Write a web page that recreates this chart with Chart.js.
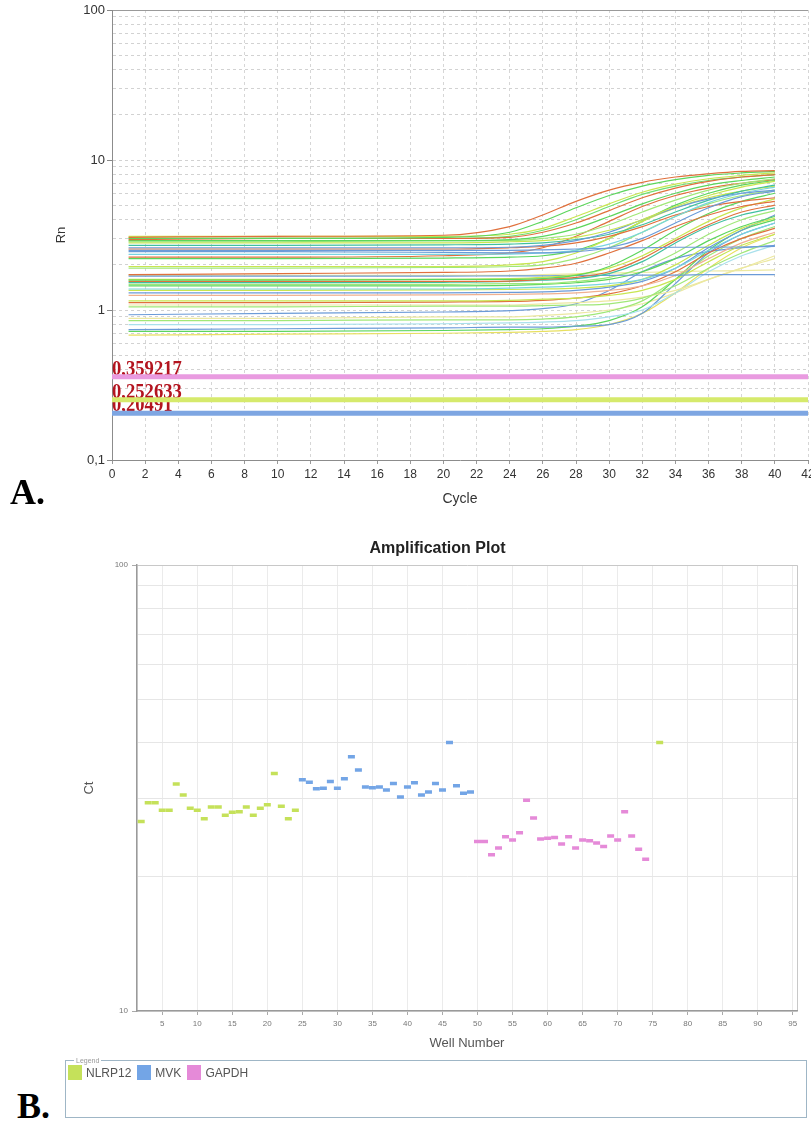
<!DOCTYPE html>
<html>
<head>
<meta charset="utf-8">
<script src="https://cdn.jsdelivr.net/npm/chart.js@4.4.0/dist/chart.umd.min.js"></script>
<style>
  html, body { margin: 0; padding: 0; background: #fff; width: 811px; height: 1124px; overflow: hidden; }
  #chartA { position: absolute; left: 0; top: 0; }
  #chartB { position: absolute; left: 60px; top: 530px; }
  .panel-label { position: absolute; font-family: "Liberation Serif", "Times New Roman", serif; font-weight: bold; font-size: 36px; color: #000; line-height: 1; }
  #legendB { position: absolute; left: 65px; top: 1057px; width: 742px; height: 61px; margin: 0; padding: 1px 2px 0 2px; border: 1px solid #9fb6c6; box-sizing: border-box; font-family: "Liberation Sans", Arial, sans-serif; }
  #legendB legend { font-size: 7px; color: #999; padding: 0 2px; margin-left: 6px; }
  .legend-item { display: inline-flex; align-items: center; font-size: 12px; color: #555; margin-right: 6px; }
  .legend-swatch { display: inline-block; width: 14px; height: 15px; margin-right: 4px; }
</style>
</head>
<body>
<canvas id="chartA" width="811" height="515"></canvas>
<div class="panel-label" style="left:10px; top:474px;">A.</div>
<canvas id="chartB" width="751" height="530"></canvas>
<div class="panel-label" style="left:17px; top:1088px;">B.</div>
<fieldset id="legendB"><legend>Legend</legend><div id="legendItems"></div></fieldset>
<script>
// ---------- Panel A: amplification curves ----------
const cycleSamples = [1, 10, 20, 24, 26, 28, 30, 32, 34, 36, 38, 40];
const cycleTicks = [0, 2, 4, 6, 8, 10, 12, 14, 16, 18, 20, 22, 24, 26, 28, 30, 32, 34, 36, 38, 40, 42];
const rnTicks = [0.1, 0.2, 0.3, 0.4, 0.5, 0.6, 0.7, 0.8, 0.9, 1, 2, 3, 4, 5, 6, 7, 8, 9, 10, 20, 30, 40, 50, 60, 70, 80, 90, 100];
const rnTickLabels = { 0.1: '0,1', 1: '1', 10: '10', 100: '100' };

const curveColors = [
  '#e0703c', '#5cd65c', '#c8e650', '#e0703c', '#5cd65c', '#a0e878', '#c8e650', '#6b9bd8', '#40c0a0',
  '#6b9bd8', '#6b9bd8', '#78d4e0', '#e0703c', '#c8e650', '#a0e878', '#e0703c', '#5cd65c', '#e0703c',
  '#c8e650', '#40c0a0', '#6b9bd8', '#a0e878', '#5cd65c', '#78d4e0', '#c8e650', '#6b9bd8', '#f0b090',
  '#c8e650', '#e0703c', '#a0e878', '#ece8a0', '#6b9bd8', '#a8e0ec', '#6b9bd8', '#5cd65c', '#e8e060',
  '#a0e878', '#ece8a0', '#ece8a0', '#5cd65c', '#e0703c', '#6ee06e'
];
const curveValues = [
  [3.05, 3.1, 3.15, 3.6, 4.3, 5.3, 6.3, 7.1, 7.7, 8.1, 8.4, 8.5],
  [3.0, 3.0, 3.05, 3.3, 3.9, 4.8, 5.8, 6.7, 7.4, 7.9, 8.2, 8.4],
  [3.1, 3.1, 3.1, 3.2, 3.5, 4.2, 5.1, 6.1, 6.9, 7.5, 7.9, 8.2],
  [2.95, 3.0, 3.0, 3.05, 3.3, 3.8, 4.6, 5.6, 6.5, 7.2, 7.7, 8.0],
  [2.9, 2.9, 2.9, 2.95, 3.1, 3.5, 4.2, 5.1, 6.0, 6.8, 7.3, 7.7],
  [2.85, 2.85, 2.9, 2.9, 3.0, 3.2, 3.7, 4.5, 5.4, 6.3, 7.0, 7.5],
  [2.8, 2.8, 2.8, 2.85, 2.9, 3.05, 3.4, 4.0, 4.9, 5.8, 6.6, 7.2],
  [2.6, 2.6, 2.6, 2.62, 2.7, 2.9, 3.3, 4.0, 4.8, 5.5, 6.0, 6.3],
  [2.7, 2.7, 2.72, 2.75, 2.8, 2.95, 3.2, 3.7, 4.5, 5.4, 6.2, 6.8],
  [2.5, 2.5, 2.5, 2.5, 2.52, 2.55, 2.58, 2.6, 2.62, 2.62, 2.63, 2.65],
  [2.45, 2.45, 2.42, 2.4, 2.4, 2.45, 2.6, 3.0, 3.8, 4.8, 5.7, 6.2],
  [2.35, 2.35, 2.35, 2.36, 2.4, 2.5, 2.75, 3.3, 4.2, 5.2, 6.0, 6.6],
  [2.55, 2.55, 2.55, 2.6, 2.65, 2.8, 3.1, 3.6, 4.3, 4.9, 5.3, 5.6],
  [1.95, 1.95, 1.95, 2.0, 2.1, 2.4, 3.0, 3.9, 4.8, 5.6, 6.2, 6.7],
  [1.9, 1.9, 1.92, 1.95, 2.0, 2.2, 2.6, 3.3, 4.2, 5.1, 5.8, 6.3],
  [1.72, 1.75, 1.78, 1.82, 1.9, 2.05, 2.4, 2.9, 3.6, 4.3, 4.9, 5.3],
  [1.58, 1.58, 1.6, 1.6, 1.62, 1.7, 1.95, 2.5, 3.4, 4.4, 5.3, 6.0],
  [1.55, 1.55, 1.55, 1.56, 1.6, 1.65, 1.8, 2.2, 2.9, 3.7, 4.5, 5.0],
  [1.6, 1.6, 1.6, 1.62, 1.65, 1.72, 1.9, 2.3, 3.0, 3.9, 4.8, 5.5],
  [1.52, 1.52, 1.53, 1.55, 1.58, 1.62, 1.75, 2.1, 2.8, 3.6, 4.3, 4.8],
  [1.68, 1.68, 1.68, 1.69, 1.69, 1.7, 1.7, 1.71, 1.71, 1.72, 1.72, 1.72],
  [1.48, 1.48, 1.48, 1.5, 1.5, 1.55, 1.65, 1.9, 2.4, 3.2, 4.0, 4.6],
  [1.45, 1.45, 1.45, 1.46, 1.48, 1.52, 1.6, 1.8, 2.2, 2.9, 3.6, 4.2],
  [1.38, 1.38, 1.38, 1.4, 1.42, 1.45, 1.5, 1.6, 1.9, 2.5, 3.2, 3.8],
  [1.35, 1.35, 1.36, 1.37, 1.38, 1.4, 1.45, 1.6, 2.0, 2.7, 3.5, 4.1],
  [1.3, 1.3, 1.3, 1.31, 1.32, 1.35, 1.42, 1.55, 1.9, 2.6, 3.4, 4.3],
  [1.25, 1.25, 1.26, 1.27, 1.28, 1.3, 1.35, 1.45, 1.7, 2.2, 2.8, 3.3],
  [1.15, 1.15, 1.15, 1.16, 1.18, 1.2, 1.25, 1.35, 1.6, 2.1, 2.7, 3.2],
  [1.12, 1.12, 1.13, 1.14, 1.16, 1.2, 1.28, 1.45, 1.8, 2.4, 3.0, 3.5],
  [1.05, 1.05, 1.06, 1.06, 1.07, 1.08, 1.1, 1.2, 1.45, 1.9, 2.4, 2.9],
  [1.08, 1.08, 1.08, 1.08, 1.1, 1.12, 1.15, 1.22, 1.35, 1.6, 1.9, 2.3],
  [0.93, 0.95, 0.97, 0.99, 1.02, 1.1, 1.35, 1.8, 2.2, 2.45, 2.6, 2.7],
  [0.8, 0.8, 0.81, 0.82, 0.83, 0.85, 0.9, 1.0, 1.3, 1.8, 2.3, 2.7],
  [0.74, 0.75, 0.76, 0.77, 0.77, 0.78, 0.8, 0.95, 1.5, 2.4, 3.2, 3.8],
  [0.72, 0.72, 0.73, 0.74, 0.75, 0.78, 0.85, 1.05, 1.6, 2.5, 3.4, 4.0],
  [0.68, 0.69, 0.7, 0.71, 0.72, 0.74, 0.8, 0.95, 1.3, 1.9, 2.6, 3.2],
  [0.85, 0.85, 0.86, 0.86, 0.87, 0.9, 0.98, 1.15, 1.6, 2.3, 3.0, 3.6],
  [0.88, 0.88, 0.9, 0.9, 0.92, 0.95, 1.0, 1.1, 1.3, 1.6, 1.9, 2.2],
  [1.7, 1.7, 1.7, 1.7, 1.72, 1.74, 1.76, 1.78, 1.8, 1.82, 1.83, 1.85],
  [2.2, 2.2, 2.22, 2.25, 2.3, 2.5, 3.0, 3.9, 5.0, 6.0, 6.8, 7.3],
  [2.25, 2.25, 2.3, 2.4, 2.6, 3.1, 3.9, 4.9, 5.8, 6.5, 7.0, 7.4],
  [3.0, 3.0, 3.0, 3.1, 3.4, 4.0, 4.9, 5.9, 6.7, 7.3, 7.7, 8.0]
];

const thresholdValues = [0.359217, 0.252633, 0.20491];
const thresholdLabels = ['0,359217', '0,252633', '0,20491'];
const thresholdColors = ['#e99be0', '#d6ea6c', '#7ea6e2'];

// ---------- Panel B: Ct per well ----------
const geneNames = ['NLRP12', 'MVK', 'GAPDH'];
const geneColors = ['#c5e15a', '#73a5e6', '#e58ad8'];
const nlrp12Wells = [2, 3, 4, 5, 6, 7, 8, 9, 10, 11, 12, 13, 14, 15, 16, 17, 18, 19, 20, 21, 22, 23, 24, 76];
const nlrp12Ct = [26.6, 29.3, 29.3, 28.2, 28.2, 32.3, 30.5, 28.5, 28.2, 27.0, 28.7, 28.7, 27.5, 27.9, 28.0, 28.7, 27.5, 28.5, 29.0, 34.1, 28.8, 27.0, 28.2, 40.0];
const mvkWells = [25, 26, 27, 28, 29, 30, 31, 32, 33, 34, 35, 36, 37, 38, 39, 40, 41, 42, 43, 44, 45, 46, 47, 48, 49];
const mvkCt = [33.0, 32.6, 31.5, 31.6, 32.7, 31.6, 33.2, 37.2, 34.7, 31.8, 31.7, 31.8, 31.3, 32.4, 30.2, 31.8, 32.5, 30.5, 31.0, 32.4, 31.3, 40.0, 32.0, 30.8, 31.0];
const gapdhWells = [50, 51, 52, 53, 54, 55, 56, 57, 58, 59, 60, 61, 62, 63, 64, 65, 66, 67, 68, 69, 70, 71, 72, 73, 74];
const gapdhCt = [24.0, 24.0, 22.4, 23.2, 24.6, 24.2, 25.1, 29.7, 27.1, 24.3, 24.4, 24.5, 23.7, 24.6, 23.2, 24.2, 24.1, 23.8, 23.4, 24.7, 24.2, 28.0, 24.7, 23.05, 21.9];
const wellTicks = [5, 10, 15, 20, 25, 30, 35, 40, 45, 50, 55, 60, 65, 70, 75, 80, 85, 90, 95];
const ctTicks = [10, 20, 30, 40, 50, 60, 70, 80, 90, 100];

const sansFont = '"Liberation Sans", Arial, sans-serif';

// threshold labels drawn under the threshold lines
const thresholdLabelPlugin = {
  id: 'thresholdLabels',
  beforeDatasetsDraw(chart) {
    const xs = chart.scales.x;
    const ys = chart.scales.y;
    const ctx = chart.ctx;
    ctx.save();
    ctx.font = 'bold 19px "Liberation Serif", "Times New Roman", serif';
    ctx.fillStyle = '#b3141f';
    ctx.textBaseline = 'alphabetic';
    thresholdValues.forEach(function(v, i) {
      const y = ys.getPixelForValue(v) - 2;
      ctx.save();
      ctx.translate(xs.left, y);
      ctx.scale(0.98, 1.12);
      ctx.fillText(thresholdLabels[i], 0, 0);
      ctx.restore();
    });
    ctx.restore();
  }
};

const datasetsA = [];
thresholdValues.forEach(function(v, i) {
  datasetsA.push({
    data: [{ x: 0, y: v }, { x: 42, y: v }],
    borderColor: thresholdColors[i],
    borderWidth: 5,
    pointRadius: 0,
    order: 0
  });
});
curveValues.forEach(function(vals, i) {
  datasetsA.push({
    data: cycleSamples.map(function(c, j) { return { x: c, y: vals[j] }; }),
    borderColor: curveColors[i],
    borderWidth: 1.2,
    pointRadius: 0,
    cubicInterpolationMode: 'monotone',
    order: 1
  });
});

new Chart(document.getElementById('chartA'), {
  type: 'line',
  data: { datasets: datasetsA },
  plugins: [thresholdLabelPlugin],
  options: {
    responsive: false,
    animation: false,
    devicePixelRatio: 1,
    layout: { padding: { left: 50, top: 10, right: 3, bottom: 4 } },
    plugins: { legend: { display: false }, tooltip: { enabled: false } },
    scales: {
      x: {
        type: 'linear', min: 0, max: 42,
        afterBuildTicks: function(s) { s.ticks = cycleTicks.map(function(v) { return { value: v }; }); },
        afterFit: function(s) { s.height = 51; s.paddingLeft = 0; s.paddingRight = 0; },
        ticks: { autoSkip: false, maxRotation: 0, color: '#333', padding: 3, font: { family: sansFont, size: 12 } },
        grid: { color: '#d6d6d6', tickLength: 4, tickColor: '#999' },
        border: { color: '#8c8c8c', dash: [3, 3] },
        title: { display: true, text: 'Cycle', color: '#333', font: { family: sansFont, size: 14 }, padding: { top: 2, bottom: 3 } }
      },
      y: {
        type: 'logarithmic', min: 0.1, max: 100,
        afterBuildTicks: function(s) { s.ticks = rnTicks.map(function(v) { return { value: v }; }); },
        afterFit: function(s) { s.width = 62; s.paddingTop = 0; s.paddingBottom = 0; },
        ticks: {
          autoSkip: false, color: '#333', padding: 2, font: { family: sansFont, size: 13 },
          callback: function(v) { return rnTickLabels[v] || ''; }
        },
        grid: {
          tickLength: 5,
          color: function(c) { return c.tick && c.tick.value === 100 ? '#9a9a9a' : '#d2d2d2'; },
          tickColor: function(c) { return c.tick && rnTickLabels[c.tick.value] ? '#888' : 'rgba(0,0,0,0)'; }
        },
        border: { color: '#8c8c8c', dash: function(c) { return c.tick && c.tick.value === 100 ? [] : [3, 3]; } },
        title: { display: true, text: 'Rn', color: '#333', font: { family: sansFont, size: 13 }, padding: { top: 4, bottom: 2 } }
      }
    }
  }
});

// ---------- Panel B chart ----------
function toPoints(wells, cts) {
  return wells.map(function(w, i) { return { x: w, y: cts[i] }; });
}
const seriesB = [toPoints(nlrp12Wells, nlrp12Ct), toPoints(mvkWells, mvkCt), toPoints(gapdhWells, gapdhCt)];

new Chart(document.getElementById('chartB'), {
  type: 'scatter',
  data: {
    datasets: seriesB.map(function(pts, i) {
      return {
        label: geneNames[i],
        data: pts,
        pointStyle: 'line',
        pointRadius: 3.5,
        pointBorderWidth: 3.5,
        borderColor: geneColors[i],
        backgroundColor: geneColors[i]
      };
    })
  },
  options: {
    responsive: false,
    animation: false,
    devicePixelRatio: 1,
    layout: { padding: { left: 18, top: 0, right: 14, bottom: 5 } },
    plugins: {
      legend: { display: false },
      tooltip: { enabled: false },
      title: {
        display: true, text: 'Amplification Plot', color: '#222',
        font: { family: sansFont, size: 16, weight: 'bold' }, padding: { top: 9, bottom: 7 }
      }
    },
    scales: {
      x: {
        type: 'linear', min: 1.4, max: 95.6,
        afterBuildTicks: function(s) {
          s.ticks = [1.4].concat(wellTicks, [95.6]).map(function(v) { return { value: v }; });
        },
        afterFit: function(s) { s.height = 44; s.paddingLeft = 0; s.paddingRight = 0; },
        ticks: {
          autoSkip: false, maxRotation: 0, color: '#777', padding: 4, font: { family: sansFont, size: 8 },
          callback: function(v) { return wellTicks.indexOf(v) >= 0 ? String(v) : ''; }
        },
        grid: {
          color: function(c) { return c.tick && c.tick.value === 95.6 ? '#c8c8c8' : '#ebebeb'; },
          tickLength: 4,
          tickColor: function(c) { return c.tick && wellTicks.indexOf(c.tick.value) >= 0 ? '#aaa' : 'rgba(0,0,0,0)'; }
        },
        border: { color: '#9a9a9a', width: 1.5 },
        title: { display: true, text: 'Well Number', color: '#555', font: { family: sansFont, size: 13 }, padding: { top: 2, bottom: 4 } }
      },
      y: {
        type: 'logarithmic', min: 10, max: 100,
        afterBuildTicks: function(s) { s.ticks = ctTicks.map(function(v) { return { value: v }; }); },
        afterFit: function(s) { s.width = 59; s.paddingTop = 0; s.paddingBottom = 0; },
        ticks: {
          autoSkip: false, color: '#777', padding: 4, font: { family: sansFont, size: 8 },
          callback: function(v) { return (v === 10 || v === 100) ? String(v) : ''; }
        },
        grid: {
          color: function(c) { return c.tick && c.tick.value === 100 ? '#c8c8c8' : '#e6e6e6'; },
          tickLength: 5,
          tickColor: function(c) { return c.tick && (c.tick.value === 10 || c.tick.value === 100) ? '#aaa' : 'rgba(0,0,0,0)'; }
        },
        border: { color: '#9a9a9a', width: 1.5 },
        title: { display: true, text: 'Ct', color: '#555', font: { family: sansFont, size: 13 }, padding: { top: 4, bottom: 2 } }
      }
    }
  }
});

// legend of panel B
const legendItems = document.getElementById('legendItems');
legendItems.innerHTML = geneNames.map(function(name, i) {
  return '<span class="legend-item"><span class="legend-swatch" style="background:' + geneColors[i] + '"></span>' + name + '</span>';
}).join('');
</script>
</body>
</html>
